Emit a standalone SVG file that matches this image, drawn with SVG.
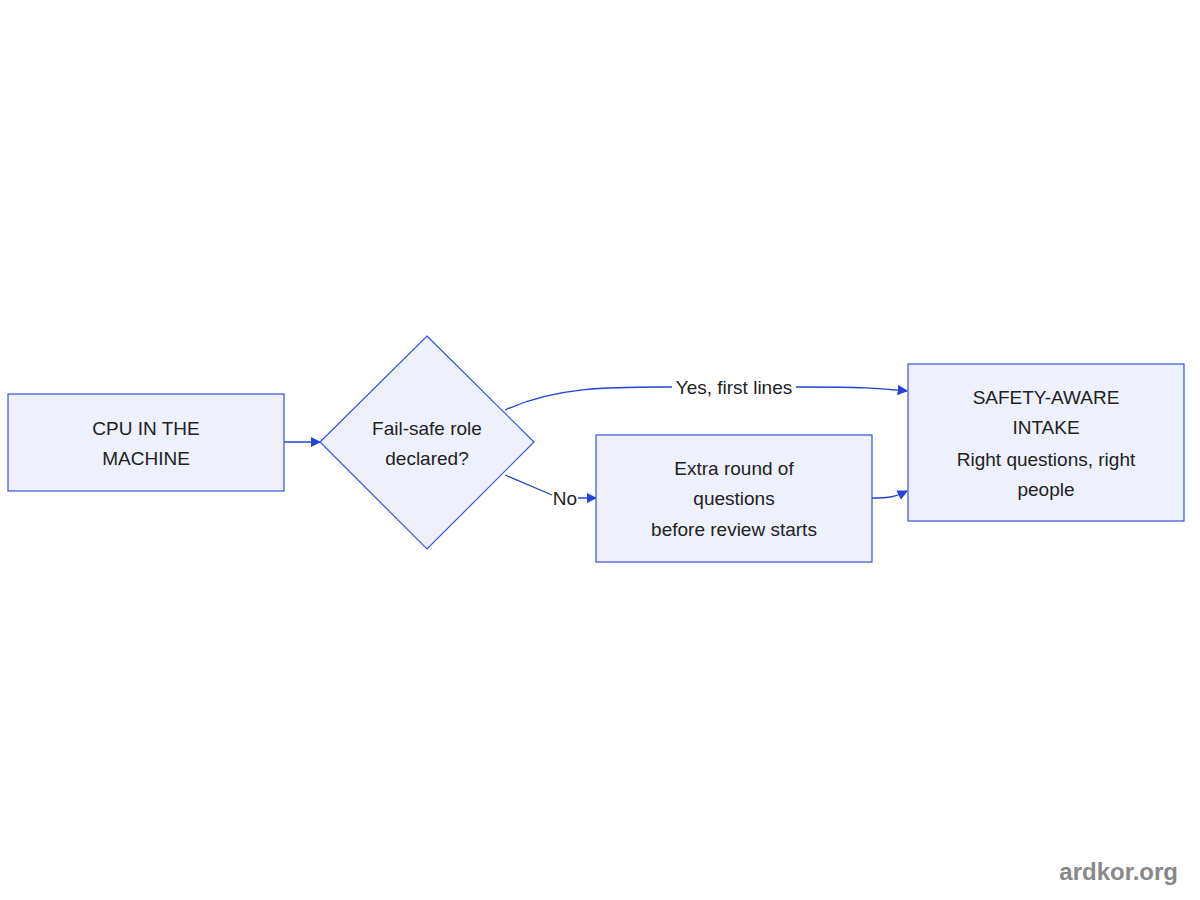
<svg xmlns="http://www.w3.org/2000/svg" width="1200" height="900" viewBox="0 0 1200 900">
<style>
.n{fill:#eef0fd;stroke:#3651e0;stroke-width:1.2}
.t{font-family:"Liberation Sans",Arial,sans-serif;font-size:19px;fill:#222;text-anchor:middle}
.e{fill:none;stroke:#2343d8;stroke-width:1.3}
.lb{fill:#fff}
</style>
<defs><marker id="a" viewBox="0 0 10 10" refX="9" refY="5" markerWidth="8" markerHeight="8" orient="auto"><path d="M0,0L10,5L0,10z" fill="#2343d8"/></marker></defs>
<rect width="1200" height="900" fill="#fff"/>
<g id="edges">
<path class="e" d="M284,442H320" marker-end="url(#a)"/>
<path class="e" d="M505,410C560,385 620,387 680,387H800C860,387 880,388 907,391" marker-end="url(#a)"/>
<path class="e" d="M505,475L552,495M578,498H596" marker-end="url(#a)"/>
<path class="e" d="M872,498C890,498 895,497 907,491" marker-end="url(#a)"/>
<rect class="lb" x="672" y="376" width="124" height="22"/>
<text class="t" x="734" y="394">Yes, first lines</text>
<text class="t" x="565" y="505">No</text>
</g>
<g id="cpu"><rect class="n" x="8" y="394" width="276" height="97"/>
<text class="t" x="146" y="435">CPU IN THE</text><text class="t" x="146" y="465">MACHINE</text></g>
<g id="decision"><polygon class="n" points="427,336 534,442 427,549 320,442"/>
<text class="t" x="427" y="435">Fail-safe role</text><text class="t" x="427" y="465">declared?</text></g>
<g id="extra"><rect class="n" x="596" y="435" width="276" height="127"/>
<text class="t" x="734" y="475">Extra round of</text><text class="t" x="734" y="505">questions</text><text class="t" x="734" y="536">before review starts</text></g>
<g id="intake"><rect class="n" x="908" y="364" width="276" height="157"/>
<text class="t" x="1046" y="404">SAFETY-AWARE</text><text class="t" x="1046" y="434">INTAKE</text><text class="t" x="1046" y="466">Right questions, right</text><text class="t" x="1046" y="496">people</text></g>
<text x="1178" y="880" font-family="Liberation Sans,Arial,sans-serif" font-size="24" font-weight="bold" fill="#888" text-anchor="end">ardkor.org</text>
</svg>
